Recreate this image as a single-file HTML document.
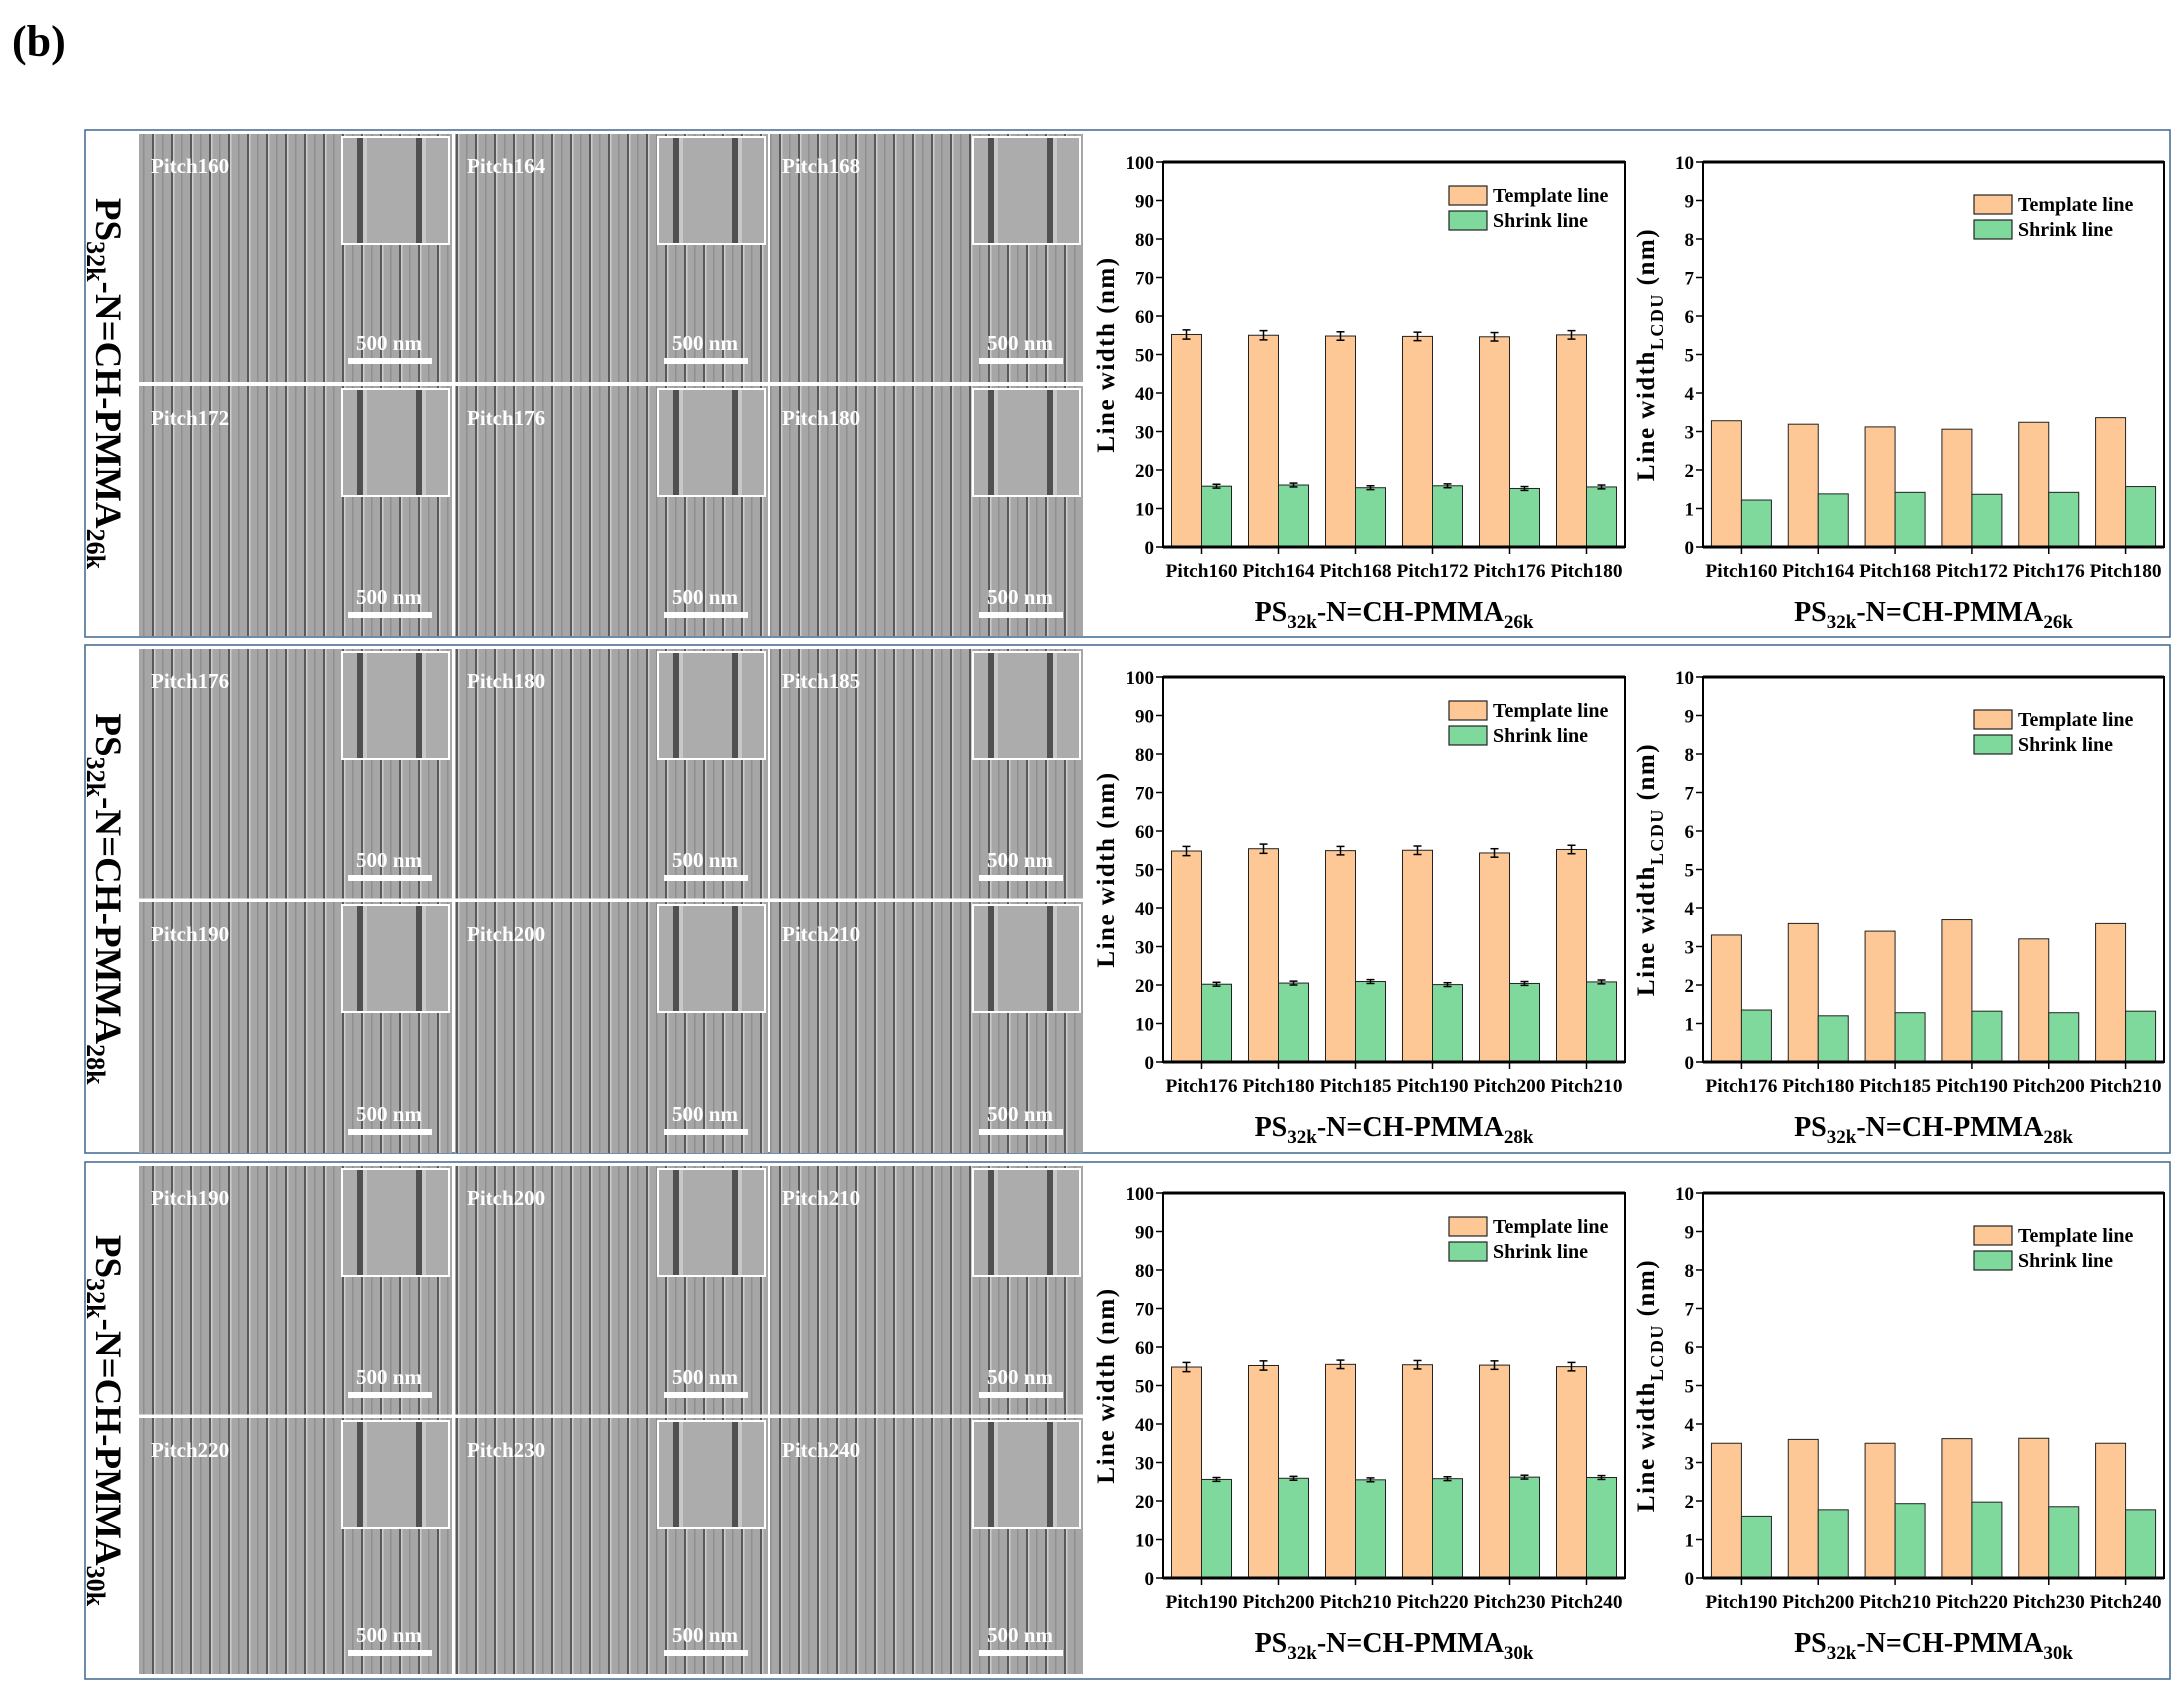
<!DOCTYPE html>
<html><head><meta charset="utf-8">
<style>
html,body{margin:0;padding:0;background:#fff;}
svg{display:block;font-family:"Liberation Serif",serif;}
</style></head>
<body>
<svg id="fig" width="2184" height="1702" viewBox="0 0 2184 1702" xmlns="http://www.w3.org/2000/svg">
<defs>
  <pattern id="semA" patternUnits="userSpaceOnUse" width="19" height="10">
    <rect width="19" height="10" fill="#a6a6a6"/>
    <rect x="0" width="2" height="10" fill="#595959"/>
    <rect x="2" width="1.5" height="10" fill="#cdcdcd"/>
    <rect x="10" width="1.5" height="10" fill="#8f8f8f"/>
  </pattern>
</defs>
<text x="12" y="56" font-size="44" font-weight="bold">(b)</text>
<g id="root"></g>
</svg>
<script>
// Data arrays
const cats1 = ["Pitch160","Pitch164","Pitch168","Pitch172","Pitch176","Pitch180"];
const cats2 = ["Pitch176","Pitch180","Pitch185","Pitch190","Pitch200","Pitch210"];
const cats3 = ["Pitch190","Pitch200","Pitch210","Pitch220","Pitch230","Pitch240"];
const tmpl1 = [55.2, 55.0, 54.8, 54.7, 54.6, 55.1];
const shr1  = [15.8, 16.1, 15.4, 15.9, 15.2, 15.6];
const tmpl2 = [54.8, 55.4, 54.9, 55.0, 54.3, 55.2];
const shr2  = [20.2, 20.5, 20.9, 20.1, 20.4, 20.8];
const tmpl3 = [54.8, 55.2, 55.5, 55.4, 55.3, 54.9];
const shr3  = [25.6, 25.9, 25.5, 25.8, 26.2, 26.1];
const tmplErr = [1.2, 1.2, 1.1, 1.1, 1.1, 1.1];
const shrErr  = [0.5, 0.5, 0.5, 0.5, 0.5, 0.5];
const cdT1 = [3.28, 3.19, 3.12, 3.06, 3.24, 3.36];
const cdS1 = [1.22, 1.38, 1.42, 1.37, 1.42, 1.57];
const cdT2 = [3.30, 3.60, 3.40, 3.70, 3.20, 3.60];
const cdS2 = [1.35, 1.20, 1.28, 1.32, 1.28, 1.32];
const cdT3 = [3.50, 3.60, 3.50, 3.62, 3.63, 3.50];
const cdS3 = [1.60, 1.77, 1.93, 1.97, 1.85, 1.77];
const ticksLW = [0,10,20,30,40,50,60,70,80,90,100];
const ticksCD = [0,1,2,3,4,5,6,7,8,9,10];
const subs = ["26k","28k","30k"];

const NS="http://www.w3.org/2000/svg";
const root=document.getElementById('root');
function mk(tag,attrs,parent,txt){const e=document.createElementNS(NS,tag);for(const k in attrs)e.setAttribute(k,attrs[k]);if(txt!==undefined)e.textContent=txt;(parent||root).appendChild(e);return e;}

const panels=[
  {top:130,h:507,cats:cats1,t:tmpl1,s:shr1,ct:cdT1,cs:cdS1,rowY:[134,386],rowH:[248,250],chartTop:162},
  {top:645,h:508,cats:cats2,t:tmpl2,s:shr2,ct:cdT2,cs:cdS2,rowY:[649,902],rowH:[250,251],chartTop:677},
  {top:1162,h:517,cats:cats3,t:tmpl3,s:shr3,ct:cdT3,cs:cdS3,rowY:[1166,1418],rowH:[250,256],chartTop:1193}
];
const colX=[139,455,770];
const colW=313;

function chart(g,x0,y0,w,h,cats,T,S,ymax,ticks,eT,eS,ytitleSub,sub,legX,legY,name){
  const cg=mk('g',{},g);
  
  
  const xs=i=>x0+(i+0.5)*w/cats.length;
  const ys=v=>y0+h-v/ymax*h;
  const bw=30;
  cats.forEach((c,i)=>{
    const cx=xs(i);
    const b1=mk('rect',{x:cx-bw,y:ys(T[i]),width:bw,height:ys(0)-ys(T[i]),fill:'#fdc896',stroke:'#222','stroke-width':1},cg);
    
    
    const b2=mk('rect',{x:cx,y:ys(S[i]),width:bw,height:ys(0)-ys(S[i]),fill:'#7fd99d',stroke:'#222','stroke-width':1},cg);
    
    
    if(eT){
      [[cx-bw/2,T[i],eT[i]],[cx+bw/2,S[i],eS[i]]].forEach(([ex,v,e])=>{
        mk('line',{x1:ex,x2:ex,y1:ys(v+e),y2:ys(v-e),stroke:'#000','stroke-width':1.5},cg);
        mk('line',{x1:ex-4,x2:ex+4,y1:ys(v+e),y2:ys(v+e),stroke:'#000','stroke-width':1.5},cg);
        mk('line',{x1:ex-4,x2:ex+4,y1:ys(v-e),y2:ys(v-e),stroke:'#000','stroke-width':1.5},cg);
      });
    }
    mk('line',{x1:cx,x2:cx,y1:y0+h,y2:y0+h+7,stroke:'#000','stroke-width':1.5},cg);
    const tl=mk('text',{x:cx,y:y0+h+30,'font-size':19,'font-weight':'bold','text-anchor':'middle',textLength:72,lengthAdjust:'spacingAndGlyphs'},cg,c);
    
    
  });
  ticks.forEach(t=>{
    mk('line',{x1:x0-7,x2:x0,y1:ys(t),y2:ys(t),stroke:'#000','stroke-width':1.5},cg);
    const yl=mk('text',{x:x0-9,y:ys(t)+7,'font-size':19,'font-weight':'bold','text-anchor':'end'},cg,String(t));
    
    
  });
  mk('rect',{x:x0,y:y0,width:w,height:h,fill:'none',stroke:'#000','stroke-width':2},cg);
  mk('line',{x1:x0,x2:x0+w,y1:y0,y2:y0,stroke:'#000','stroke-width':3},cg);
  mk('line',{x1:x0,x2:x0+w,y1:y0+h,y2:y0+h,stroke:'#000','stroke-width':3},cg);
  const yt=mk('text',{transform:`translate(${x0-49},${y0+h/2}) rotate(-90)`,'font-size':25,'font-weight':'bold','text-anchor':'middle','letter-spacing':'1.5'},cg);
  
  
  if(ytitleSub){
    mk('tspan',{},yt,'Line width');
    mk('tspan',{'font-size':18,dy:9},yt,'LCDU');
    mk('tspan',{dy:-9},yt,' (nm)');
  } else { yt.textContent='Line width (nm)'; }
  const xt=mk('text',{x:x0+w/2,y:y0+h+74,'font-size':28,'font-weight':'bold','text-anchor':'middle'},cg);
  
  
  mk('tspan',{},xt,'PS');
  mk('tspan',{'font-size':19,dy:7},xt,'32k');
  mk('tspan',{dy:-7},xt,'-N=CH-PMMA');
  mk('tspan',{'font-size':19,dy:7},xt,sub);
  const lg=mk('g',{},cg);
  
  
  mk('rect',{x:legX,y:legY,width:38,height:19,fill:'#fdc896',stroke:'#222','stroke-width':1.2},lg);
  mk('rect',{x:legX,y:legY+25,width:38,height:19,fill:'#7fd99d',stroke:'#222','stroke-width':1.2},lg);
  const l1=mk('text',{x:legX+44,y:legY+16,'font-size':20,'font-weight':'bold'},lg,'Template line');
  
  
  const l2=mk('text',{x:legX+44,y:legY+41,'font-size':20,'font-weight':'bold'},lg,'Shrink line');
  
  
}

panels.forEach((p,pi)=>{
  const g=mk('g',{},root);
  
  
  mk('rect',{x:85,y:p.top,width:2085,height:p.h,fill:'#fff',stroke:'#4a6f96','stroke-width':1.6},g);
  const sl=mk('text',{transform:`translate(${96},${p.top+p.h/2}) rotate(90)`,'font-size':37,'font-weight':'bold','text-anchor':'middle'},g);
  
  
  mk('tspan',{},sl,'PS');
  mk('tspan',{'font-size':26,dy:9},sl,'32k');
  mk('tspan',{dy:-9},sl,'-N=CH-PMMA');
  mk('tspan',{'font-size':26,dy:9},sl,subs[pi]);
  let k=0;
  for(let r=0;r<2;r++){for(let c=0;c<3;c++){
    const x=colX[c],y=p.rowY[r],hh=p.rowH[r];
    const im=mk('g',{},g);
    
    
    mk('rect',{x:x,y:y,width:colW,height:hh,fill:'url(#semA)'},im);
    mk('rect',{x:x+203,y:y+3,width:107,height:107,fill:'#acacac',stroke:'#fff','stroke-width':2},im);
    mk('rect',{x:x+218,y:y+4,width:6,height:105,fill:'#505050'},im);
    mk('rect',{x:x+224,y:y+4,width:4,height:105,fill:'#c8c8c8'},im);
    mk('rect',{x:x+277,y:y+4,width:6,height:105,fill:'#505050'},im);
    mk('rect',{x:x+283,y:y+4,width:4,height:105,fill:'#c8c8c8'},im);
    mk('text',{x:x+12,y:y+39,'font-size':21,'font-weight':'bold',fill:'#fff'},im,p.cats[k]);
    mk('text',{x:x+250,y:y+hh-32,'font-size':21,'font-weight':'bold',fill:'#fff','text-anchor':'middle'},im,'500 nm');
    mk('rect',{x:x+209,y:y+hh-24,width:84,height:6,fill:'#fff'},im);
    k++;
  }}
  mk('line',{x1:139,x2:1084,y1:p.rowY[1]-2,y2:p.rowY[1]-2,stroke:'#fff','stroke-width':3},g);
  chart(g,1163,p.chartTop,462,385,p.cats,p.t,p.s,100,ticksLW,tmplErr,shrErr,false,subs[pi],1449,p.chartTop+24,'linewidth-chart-'+subs[pi]);
  chart(g,1703,p.chartTop,461,385,p.cats,p.ct,p.cs,10,ticksCD,null,null,true,subs[pi],1974,p.chartTop+33,'lcdu-chart-'+subs[pi]);
});
</script>
</body></html>
